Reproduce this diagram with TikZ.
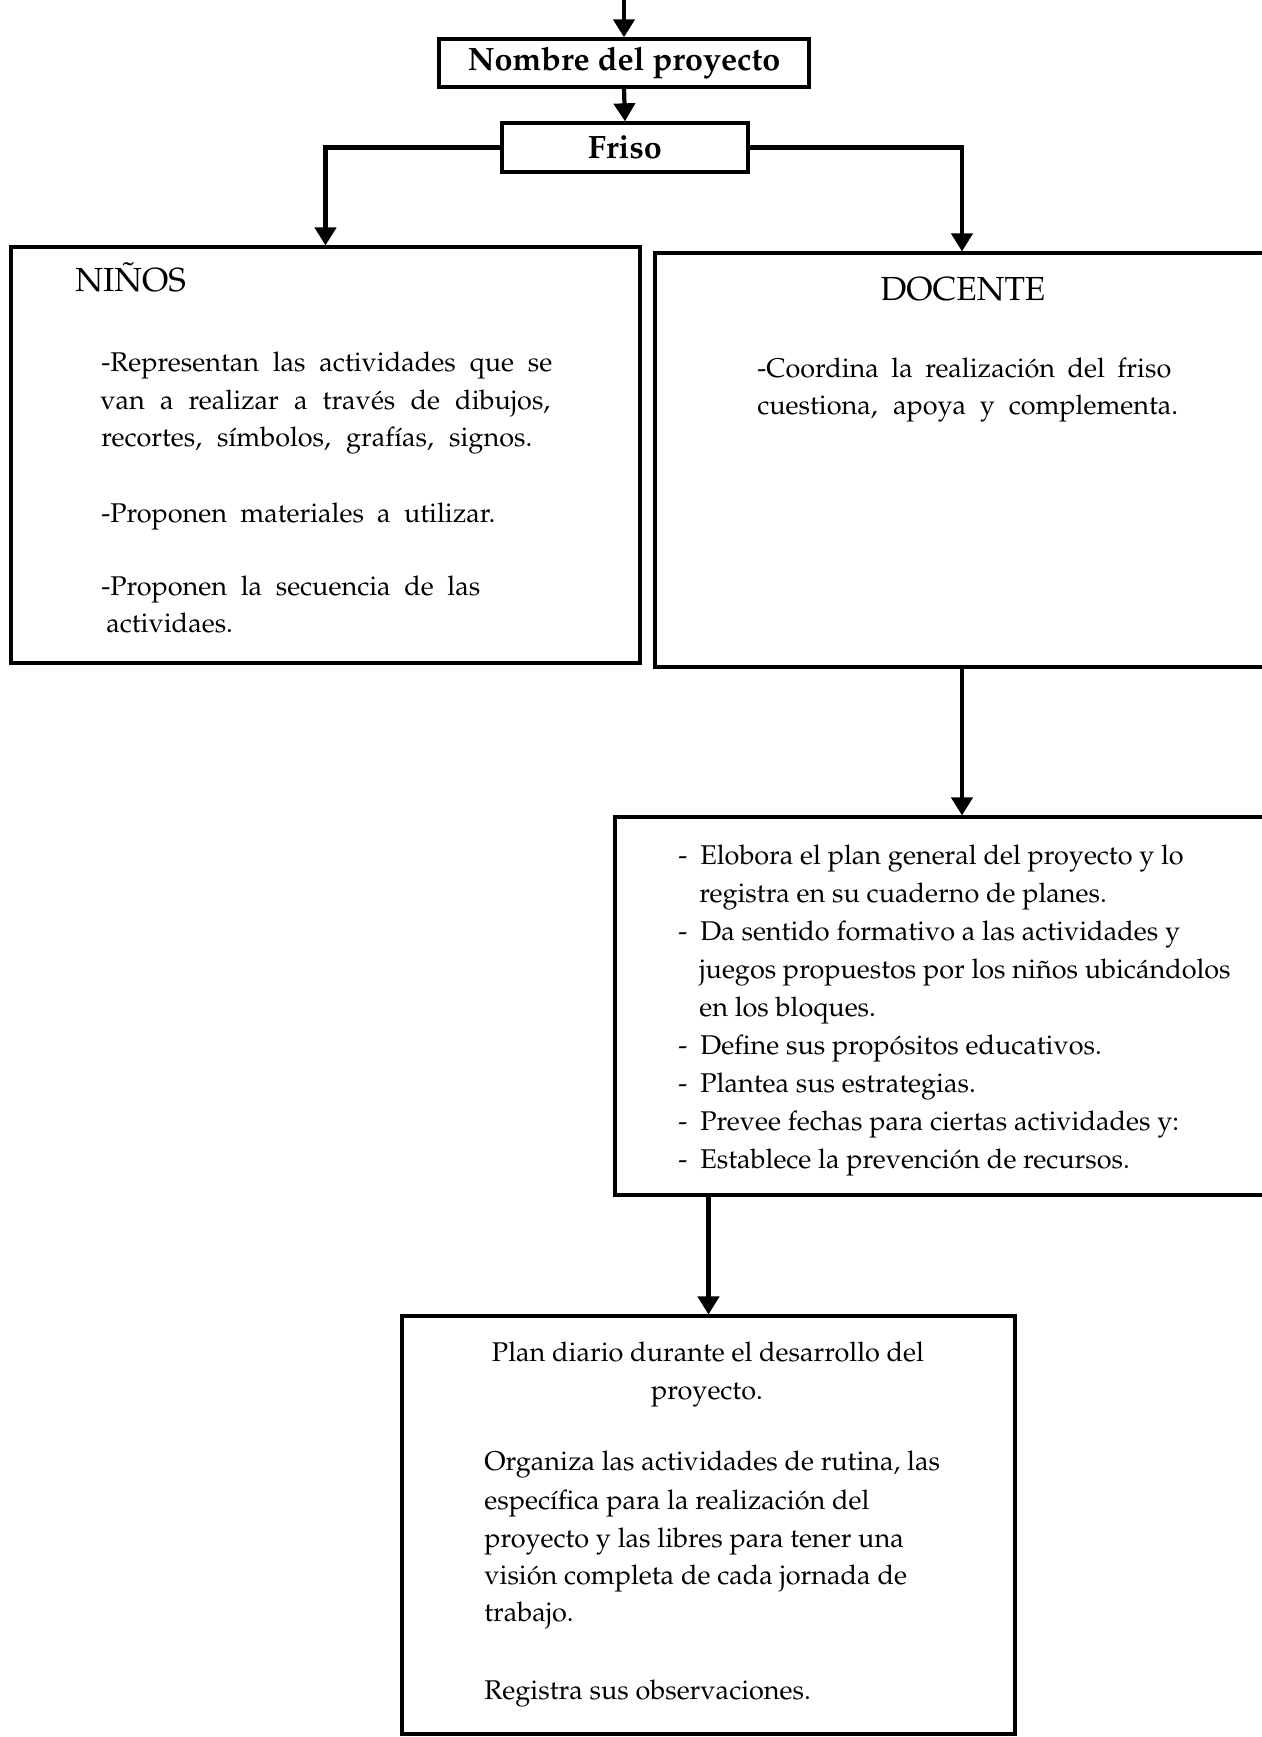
\documentclass[tikz,border=0pt]{standalone}
\usepackage[T1]{fontenc}
\usepackage{mathpazo}
\usetikzlibrary{arrows.meta}
\tikzset{
  boxs/.style={draw, line width=1.8pt, inner sep=0pt, rectangle},
  titl/.style={boxs, line width=1.9pt, font=\bfseries\fontsize{18.4}{22}\selectfont},
  conn/.style={line width=2.4pt, -{Triangle[width=0.42cm,length=0.36cm]}},
  body/.style={inner sep=0pt, anchor=base west, font=\fontsize{15.4}{18}\selectfont},
  bodyc/.style={inner sep=0pt, anchor=base, font=\fontsize{15.4}{18}\selectfont},
  head/.style={inner sep=0pt, font=\fontsize{19}{22}\selectfont},
}
\begin{document}
\begin{tikzpicture}[x=0.02cm,y=-0.02cm]
\useasboundingbox (0,0) rectangle (1261,1737);
% boxes
\node[titl, minimum width=7.4cm, minimum height=0.96cm] (nombre) at (624,63) {Nombre del proyecto};
\node[titl, minimum width=4.92cm, minimum height=0.98cm] (friso) at (625,147.5) {Friso};
\node[boxs, minimum width=12.58cm, minimum height=8.32cm] (ninos) at (325.5,455) {};
\node[boxs, minimum width=12.28cm, minimum height=8.28cm] (docente) at (962,460) {};
\node[boxs, minimum width=13.88cm, minimum height=7.56cm] (plang) at (962,1006) {};
\node[boxs, minimum width=12.26cm, minimum height=8.36cm] (pland) at (708.5,1525) {};
% connectors
\coordinate (topin) at (624,-5);
\draw[conn] (topin) -- (nombre.north);
\draw[conn] (nombre.south) -- (friso.north);
\draw[conn] (friso.west) -| (ninos.north);
\draw[conn] (friso.east) -| (docente.north);
\draw[conn] (docente.south) -- (plang.north);
\draw[conn] (pland.north |- plang.south) -- (pland.north);
% NINOS text
\node[head, anchor=base west] (hn) at (75,291) {NI\~NOS};
\node[body] (n1) at (101,371) {\makebox[9.02cm][s]{-Representan las actividades que se}};
\node[body] (n2) at (100,409) {\makebox[9.0cm][s]{van a realizar a trav\'es de dibujos,}};
\node[body] (n3) at (101,446) {\makebox[8.62cm][s]{recortes, s\'\i mbolos, graf\'\i as, signos.}};
\node[body] (n4) at (101,522) {\makebox[7.88cm][s]{-Proponen materiales a utilizar.}};
\node[body] (n5) at (101,595) {\makebox[7.58cm][s]{-Proponen la secuencia de las}};
\node[body] (n6) at (106,632) {actividaes.};
% DOCENTE text
\node[head, anchor=base] (hd) at (963,300) {DOCENTE};
\node[body] (d1) at (757,377) {\makebox[8.28cm][s]{-Coordina la realizaci\'on del friso}};
\node[body] (d2) at (757,414) {\makebox[8.42cm][s]{cuestiona, apoya y complementa.}};
% plan general text
\node[body] (g1) at (678,864) {\makebox[0.44cm][l]{-}Elobora el plan general del proyecto y lo};
\node[body] (g2) at (699,902) {registra en su cuaderno de planes.};
\node[body] (g3) at (678,940) {\makebox[0.44cm][l]{-}Da sentido formativo a las actividades y};
\node[body] (g4) at (699,978) {juegos propuestos por los ni\~nos ubic\'andolos};
\node[body] (g5) at (699,1016) {en los bloques.};
\node[body] (g6) at (678,1054) {\makebox[0.44cm][l]{-}Define sus prop\'ositos educativos.};
\node[body] (g7) at (678,1092) {\makebox[0.44cm][l]{-}Plantea sus estrategias.};
\node[body] (g8) at (678,1130) {\makebox[0.44cm][l]{-}Prevee fechas para ciertas actividades y:};
\node[body] (g9) at (678,1168) {\makebox[0.44cm][l]{-}Establece la prevenci\'on de recursos.};
% plan diario text
\node[bodyc] (p1) at (708,1361) {Plan diario durante el desarrollo del};
\node[bodyc] (p2) at (707,1399) {proyecto.};
\node[body] (p3) at (484,1470) {Organiza las actividades de rutina, las};
\node[body] (p4) at (484,1509) {espec\'\i fica para la realizaci\'on del};
\node[body] (p5) at (484,1547) {proyecto y las libres para tener una};
\node[body] (p6) at (484,1584) {visi\'on completa de cada jornada de};
\node[body] (p7) at (484,1621) {trabajo.};
\node[body] (p8) at (484,1699) {Registra sus observaciones.};
\end{tikzpicture}
\end{document}
